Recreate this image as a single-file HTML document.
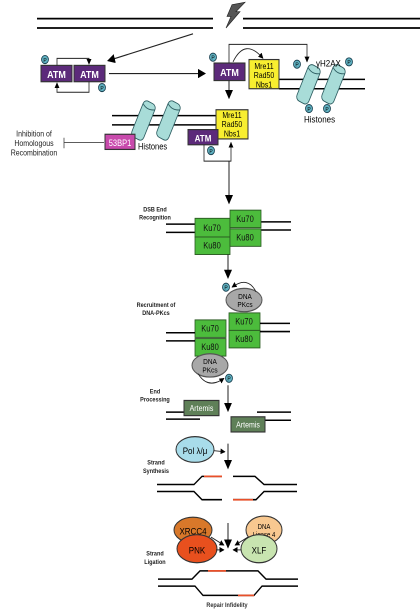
<!DOCTYPE html>
<html><head><meta charset="utf-8"><style>
html,body{margin:0;padding:0;background:#fff;}
svg{display:block;font-family:"Liberation Sans",sans-serif;}
</style></head><body>
<svg width="420" height="613" viewBox="0 0 420 613" xmlns="http://www.w3.org/2000/svg">
<defs>
<marker id="a" markerWidth="8" markerHeight="8" refX="7" refY="4" orient="auto" markerUnits="userSpaceOnUse"><path d="M0,0 L8,4 L0,8 z" fill="#000"/></marker>
<marker id="s" markerWidth="5" markerHeight="5" refX="4.5" refY="2.5" orient="auto" markerUnits="userSpaceOnUse"><path d="M0,0 L5,2.5 L0,5 z" fill="#000"/></marker>
<g id="cyl"><rect x="-6" y="-17" width="13" height="34" rx="4" fill="#a8dcd8" stroke="#2c5c60" stroke-width="0.8"/><path d="M-6,-13 Q0,-9 7,-13" fill="none" stroke="#2c5c60" stroke-width="0.8"/></g>
<g id="p"><circle r="3.5" fill="#5fb0c0" stroke="#1a4050" stroke-width="0.8"/><text y="2" font-size="5" text-anchor="middle" fill="#000">P</text></g>
</defs>
<g transform="scale(1,1.1675)">
<g stroke="#000" stroke-width="1.5">
<line x1="37" y1="16" x2="213" y2="16"/><line x1="37" y1="24" x2="213" y2="24"/>
<line x1="243" y1="16" x2="420" y2="16"/><line x1="243" y1="24" x2="420" y2="24"/>
</g>
<path d="M232,4 L245,2 L236,10 L240,10 L226,24 L231,14 L227,14 Z" fill="#555" stroke="#222" stroke-width="0.6"/>
<line x1="193" y1="29" x2="108" y2="52" stroke="#222" marker-end="url(#a)"/>
<rect x="41" y="56" width="31" height="14" fill="#5c2a7a" stroke="#333"/>
<rect x="74" y="56" width="31" height="14" fill="#5c2a7a" stroke="#333"/>
<text x="56.5" y="67" font-size="9" fill="#fff" text-anchor="middle" font-weight="bold">ATM</text>
<text x="89.5" y="67" font-size="9" fill="#fff" text-anchor="middle" font-weight="bold">ATM</text>
<use href="#p" x="45" y="51"/><use href="#p" x="102" y="75"/>
<path d="M57,56 V50 H89 V55" fill="none" stroke="#222" stroke-width="0.8" marker-end="url(#s)"/>
<path d="M89,70 V79 H57 V71" fill="none" stroke="#222" stroke-width="0.8" marker-end="url(#s)"/>
<line x1="109" y1="63" x2="205" y2="63" stroke="#222" marker-end="url(#a)"/>
<g stroke="#000" stroke-width="1.3"><line x1="279" y1="68" x2="365" y2="68"/><line x1="279" y1="76" x2="365" y2="76"/></g>
<rect x="214" y="54" width="31" height="15" fill="#5c2a7a" stroke="#333"/>
<text x="229.5" y="65" font-size="9" fill="#fff" text-anchor="middle" font-weight="bold">ATM</text>
<use href="#p" x="213" y="49"/>
<rect x="249" y="51" width="30" height="25" fill="#f8ee30" stroke="#333"/>
<text x="264" y="59" font-size="7" text-anchor="middle">Mre11</text>
<text x="264" y="67" font-size="7" text-anchor="middle">Rad50</text>
<text x="264" y="75" font-size="7" text-anchor="middle">Nbs1</text>
<path d="M229,54 V38 H307 V53" fill="none" stroke="#222" stroke-width="0.8" marker-end="url(#s)"/>
<path d="M233,53 Q245,32 263,50" fill="none" stroke="#222" stroke-width="0.8" marker-end="url(#s)"/>
<line x1="229" y1="69" x2="229" y2="84" stroke="#222" marker-end="url(#a)"/>
<use href="#cyl" transform="translate(308,72) rotate(25)"/>
<use href="#cyl" transform="translate(333,72) rotate(25)"/>
<use href="#p" x="297" y="55"/><use href="#p" x="349" y="53"/>
<use href="#p" x="309" y="93"/><use href="#p" x="327" y="93"/>
<text x="316" y="57" font-size="8">γH2AX</text>
<text x="304" y="105" font-size="8">Histones</text>
<g stroke="#000" stroke-width="1.3"><line x1="112" y1="99" x2="216" y2="99"/><line x1="112" y1="107" x2="216" y2="107"/></g>
<use href="#cyl" transform="translate(143,103) rotate(25)"/>
<use href="#cyl" transform="translate(168,103) rotate(25)"/>
<rect x="216" y="94" width="32" height="25" fill="#f8ee30" stroke="#333"/>
<text x="232" y="101" font-size="7" text-anchor="middle">Mre11</text>
<text x="232" y="109" font-size="7" text-anchor="middle">Rad50</text>
<text x="232" y="117" font-size="7" text-anchor="middle">Nbs1</text>
<rect x="188" y="111" width="30" height="13" fill="#5c2a7a" stroke="#333"/>
<text x="203" y="121" font-size="8" fill="#fff" text-anchor="middle" font-weight="bold">ATM</text>
<use href="#p" x="211" y="129"/>
<path d="M204,124 V138 H231 V122" fill="none" stroke="#222" stroke-width="0.8" marker-end="url(#s)"/>
<line x1="229" y1="138" x2="229" y2="174" stroke="#222" marker-end="url(#a)"/>
<rect x="105" y="115" width="30" height="13" fill="#c84aac" stroke="#333"/>
<text x="120" y="125" font-size="7.5" fill="#fff" text-anchor="middle">53BP1</text>
<text x="138" y="128" font-size="7.5">Histones</text>
<line x1="64" y1="122" x2="104" y2="122" stroke="#444" stroke-width="0.8"/>
<line x1="64" y1="118" x2="64" y2="127" stroke="#444" stroke-width="0.8"/>
<g font-size="7" text-anchor="middle" fill="#222"><text x="34" y="117">Inhibition of</text><text x="34" y="125">Homologous</text><text x="34" y="133">Recombination</text></g>
<g font-size="5.5" font-weight="bold" text-anchor="middle" fill="#222"><text x="155" y="181">DSB End</text><text x="155" y="188">Recognition</text>
<text x="156" y="263">Recruitment of</text><text x="156" y="270">DNA-PKcs</text>
<text x="155" y="337">End</text><text x="155" y="344">Processing</text>
<text x="156" y="398">Strand</text><text x="156" y="405">Synthesis</text>
<text x="155" y="476">Strand</text><text x="155" y="483">Ligation</text></g>
<g stroke="#000" stroke-width="1.3"><line x1="166" y1="192" x2="195" y2="192"/><line x1="166" y1="199" x2="195" y2="199"/>
<line x1="261" y1="190" x2="291" y2="190"/><line x1="261" y1="197" x2="291" y2="197"/></g>
<g fill="#4cbc3c" stroke="#2a5a22" stroke-width="0.8">
<rect x="195" y="187" width="35" height="16"/><rect x="195" y="203" width="35" height="15"/>
<rect x="230" y="180" width="31" height="15"/><rect x="230" y="196" width="31" height="15"/>
<rect x="195" y="274" width="31" height="15"/><rect x="195" y="290" width="31" height="15"/>
<rect x="229" y="268" width="31" height="15"/><rect x="229" y="283" width="31" height="15"/></g>
<g font-size="7.5" text-anchor="middle" fill="#111">
<text x="212" y="198">Ku70</text><text x="212" y="213">Ku80</text><text x="245" y="190">Ku70</text><text x="245" y="206">Ku80</text>
<text x="210" y="284">Ku70</text><text x="210" y="300">Ku80</text><text x="244" y="278">Ku70</text><text x="244" y="293">Ku80</text></g>
<line x1="228" y1="218" x2="228" y2="238" stroke="#222" marker-end="url(#a)"/>
<g stroke="#000" stroke-width="1.3"><line x1="166" y1="285" x2="195" y2="285"/><line x1="166" y1="292" x2="195" y2="292"/>
<line x1="260" y1="277" x2="290" y2="277"/><line x1="260" y1="284" x2="290" y2="284"/></g>
<ellipse cx="244" cy="257" rx="18" ry="10" fill="#a8a8a8" stroke="#555"/>
<text x="245" y="256" font-size="6.5" text-anchor="middle">DNA</text><text x="245" y="263" font-size="6.5" text-anchor="middle">PKcs</text>
<path d="M256,250 Q248,236 232,246" fill="none" stroke="#222" stroke-width="0.8" marker-end="url(#s)"/>
<use href="#p" x="226" y="246"/>
<ellipse cx="210" cy="313" rx="18" ry="10" fill="#a8a8a8" stroke="#555"/>
<text x="210" y="312" font-size="6.5" text-anchor="middle">DNA</text><text x="210" y="319" font-size="6.5" text-anchor="middle">PKcs</text>
<path d="M198,320 Q208,334 224,324" fill="none" stroke="#222" stroke-width="0.8" marker-end="url(#s)"/>
<use href="#p" x="229" y="324"/>
<line x1="228" y1="330" x2="228" y2="352" stroke="#222" marker-end="url(#a)"/>
<g stroke="#000" stroke-width="1.3"><line x1="166" y1="353" x2="184" y2="353"/><line x1="166" y1="359" x2="200" y2="359"/>
<line x1="257" y1="353" x2="291" y2="353"/><line x1="265" y1="360" x2="291" y2="360"/></g>
<rect x="184" y="343" width="35" height="13" fill="#5f8058" stroke="#333"/>
<text x="201.5" y="352" font-size="7" fill="#fff" text-anchor="middle">Artemis</text>
<rect x="231" y="357" width="34" height="13" fill="#5f8058" stroke="#333"/>
<text x="248" y="366" font-size="7" fill="#fff" text-anchor="middle">Artemis</text>
<ellipse cx="195" cy="385" rx="19" ry="11" fill="#a8dcea" stroke="#333"/>
<text x="195" y="389" font-size="8" text-anchor="middle">Pol λ/μ</text>
<line x1="214" y1="386" x2="225" y2="387" stroke="#222" stroke-width="0.8" marker-end="url(#s)"/>
<line x1="228" y1="380" x2="228" y2="401" stroke="#222" marker-end="url(#a)"/>
<g fill="none" stroke="#000" stroke-width="1.3">
<path d="M157,415 H194 L202,408 H222"/><path d="M233,408 H255 L264,415 H297"/>
<path d="M157,421 H194 L202,428 H222"/><path d="M233,428 H256 L264,421 H297"/></g>
<line x1="204" y1="408" x2="222" y2="408" stroke="#e8502a" stroke-width="1.5"/>
<line x1="233" y1="428" x2="253" y2="428" stroke="#e8502a" stroke-width="1.5"/>
<line x1="228" y1="448" x2="228" y2="469" stroke="#222" marker-end="url(#a)"/>
<ellipse cx="193" cy="454" rx="19" ry="11" fill="#d8782a" stroke="#333"/>
<text x="193" y="458" font-size="8" text-anchor="middle">XRCC4</text>
<ellipse cx="197" cy="470" rx="20" ry="12" fill="#e8501e" stroke="#333"/>
<text x="197" y="474" font-size="8" text-anchor="middle">PNK</text>
<ellipse cx="264" cy="454" rx="18" ry="12" fill="#f8c890" stroke="#333"/>
<text x="264" y="453" font-size="6" text-anchor="middle">DNA</text><text x="264" y="460" font-size="6" text-anchor="middle">Ligase 4</text>
<ellipse cx="259" cy="470" rx="18" ry="12" fill="#c8e4b0" stroke="#333"/>
<text x="259" y="474" font-size="8" text-anchor="middle">XLF</text>
<g stroke="#222" stroke-width="0.8">
<line x1="211" y1="460" x2="224" y2="467" marker-end="url(#s)"/>
<line x1="216" y1="471" x2="224" y2="471" marker-end="url(#s)"/>
<line x1="248" y1="460" x2="235" y2="467" marker-end="url(#s)"/>
<line x1="241" y1="471" x2="233" y2="471" marker-end="url(#s)"/></g>
<g fill="none" stroke="#000" stroke-width="1.3">
<path d="M158,496 H192 L200,489 H258 L266,496 H298"/>
<path d="M158,502 H195 L203,510 H254 L262,502 H298"/></g>
<line x1="208" y1="489" x2="226" y2="489" stroke="#e8502a" stroke-width="1.5"/>
<line x1="238" y1="510" x2="254" y2="510" stroke="#e8502a" stroke-width="1.5"/>
<text x="227" y="520" font-size="5.5" font-weight="bold" text-anchor="middle" fill="#333">Repair Infidelity</text>
</g>
</svg>
</body></html>
